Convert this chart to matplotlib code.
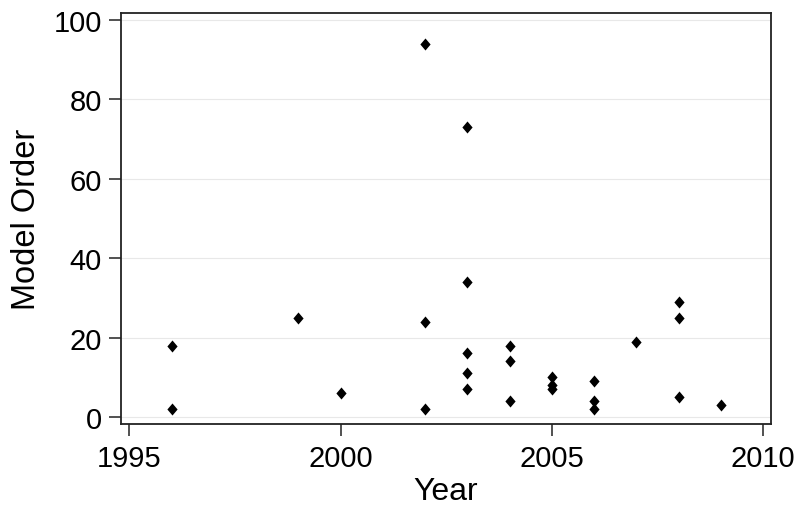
import matplotlib
matplotlib.use("Agg")
import matplotlib.pyplot as plt

years = [1996, 1996, 1999, 2000, 2002, 2002, 2002, 2003, 2003, 2003, 2003, 2003,
         2004, 2004, 2004, 2005, 2005, 2005, 2006, 2006, 2006, 2007, 2008, 2008, 2008, 2009]
orders = [18, 2, 25, 6, 94, 24, 2, 73, 34, 16, 11, 7,
          18, 14, 4, 10, 8, 7, 9, 4, 2, 19, 29, 25, 5, 3]
xticks = [1995, 2000, 2005, 2010]
yticks = [0, 20, 40, 60, 80, 100]

diamond = [(0, 1), (0.85, 0), (0, -1), (-0.85, 0), (0, 1)]

plt.rcParams['font.family'] = ['Liberation Sans', 'DejaVu Sans']
fig = plt.figure(figsize=(8, 5.1), dpi=100)
ax = fig.add_axes([0.151, 0.1667, 0.8125, 0.806])
ax.scatter(years, orders, marker=diamond, s=75, color='black', zorder=3, linewidths=0)
ax.set_xlim(1994.80, 2010.18)
ax.set_ylim(-1.76, 101.8)
ax.set_xticks(xticks)
ax.set_yticks(yticks)
ax.grid(axis='y', color='#e8e8e8', linewidth=0.8, zorder=0)
ax.set_axisbelow(True)
for s in ax.spines.values():
    s.set_color('#222222')
    s.set_linewidth(1.3)
ax.tick_params(direction='out', length=8.6, width=1.1, labelsize=21, color='#222222')
ax.tick_params(axis='x', pad=6)
ax.tick_params(axis='y', pad=5)
ax.set_xlabel('Year', fontsize=23, labelpad=3)
ax.set_ylabel('Model Order', fontsize=23.5, labelpad=8)
fig.savefig('out.png', dpi=100)
